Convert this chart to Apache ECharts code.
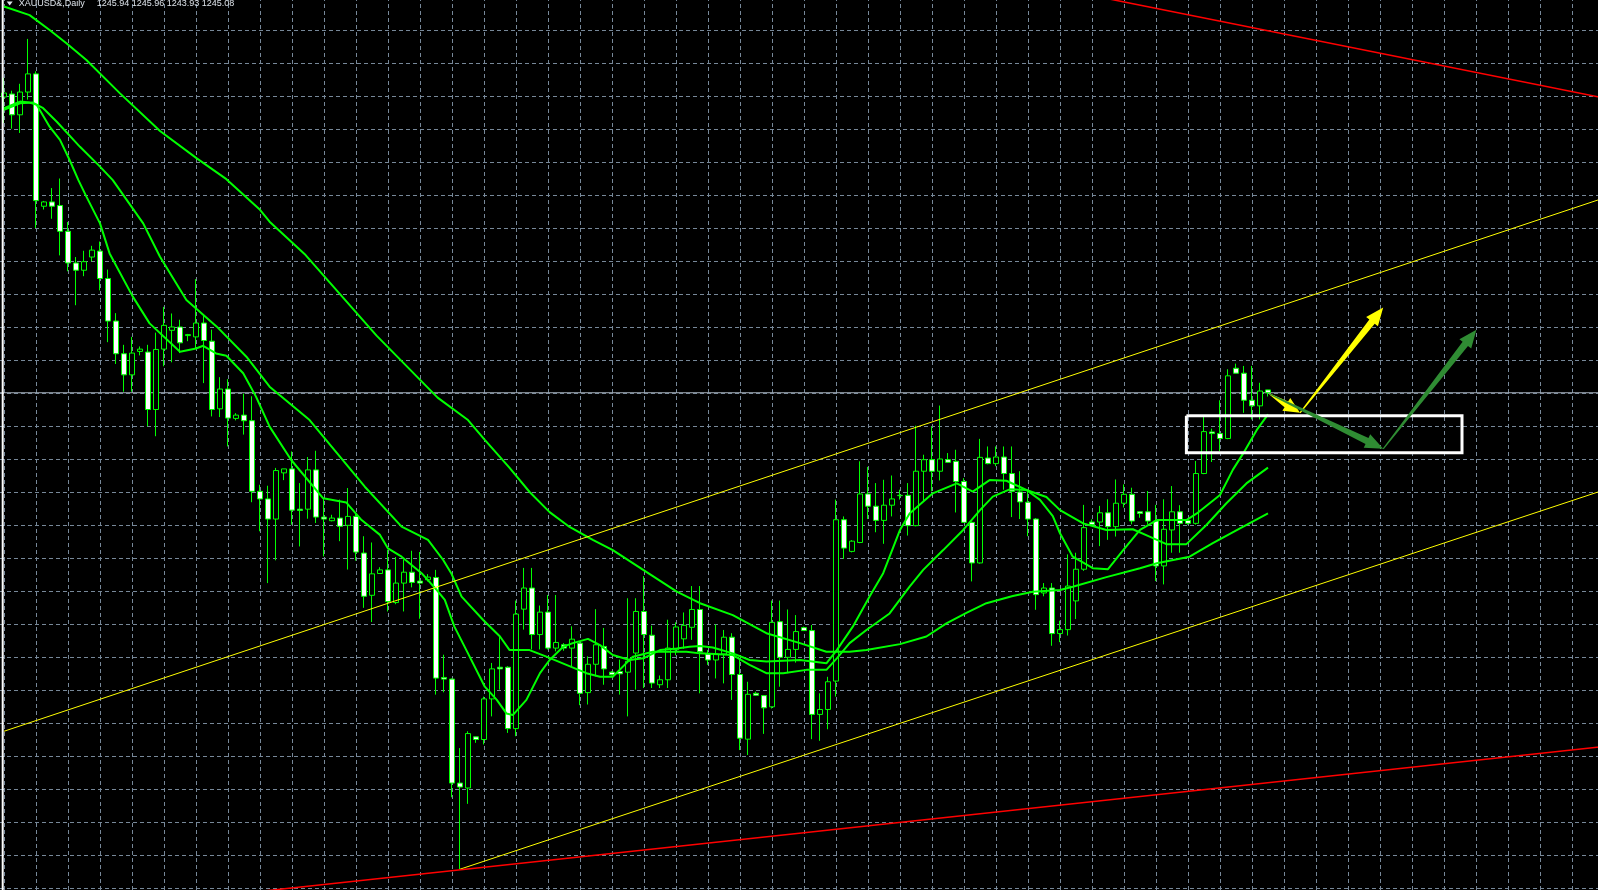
<!DOCTYPE html>
<html>
<head>
<meta charset="utf-8">
<script src="https://cdn.jsdelivr.net/npm/echarts@6/dist/echarts.min.js"></script>
<style>
html,body{margin:0;padding:0;background:#000;overflow:hidden;width:1598px;height:890px;position:relative;}
#chart{position:absolute;left:-27.7px;top:-3px;width:1632px;height:924px;}
</style>
</head>
<body>
<div id="chart"></div>
<script>
// ---- Data (XAUUSD&, Daily) ----
const symbolTitle = 'XAUUSD&,Daily';
const lastQuote = '1245.94 1245.96 1243.93 1245.08';
const lastPrice = 1245.08;

const opens = [1334.7,1335.6,1329.3,1336.2,1341.7,1301.6,1302.9,1301.8,1294.0,1284.4,
1282.2,1286.2,1288.0,1279.7,1266.8,1256.9,1250.5,1257.6,1257.4,1240.0,
1258.3,1264.0,1265.0,1262.4,1262.0,1266.2,1260.7,1240.2,1246.2,1237.3,
1238.3,1236.6,1215.2,1212.9,1206.8,1220.8,1222.0,1209.8,1209.8,1221.7,
1207.4,1206.3,1207.1,1204.9,1207.6,1196.5,1183.7,1190.3,1191.4,1181.5,
1187.4,1190.7,1188.0,1188.4,1189.1,1158.8,1158.3,1126.8,1125.3,1140.8,
1140.0,1152.3,1161.9,1161.9,1143.3,1179.5,1185.9,1171.8,1178.6,1167.7,
1168.7,1167.7,1169.2,1154.2,1162.8,1168.2,1160.4,1160.6,1160.4,1166.2,
1178.8,1171.6,1156.6,1158.1,1167.2,1170.5,1174.0,1179.4,1165.9,1164.1,
1165.9,1171.0,1159.7,1140.1,1154.0,1153.3,1149.9,1175.7,1164.9,1167.3,
1173.9,1173.0,1147.6,1149.1,1157.7,1206.6,1197.0,1199.7,1214.4,1210.7,
1206.4,1211.0,1213.9,1214.0,1204.8,1221.3,1224.8,1221.3,1224.8,1224.3,
1218.2,1205.8,1193.5,1225.3,1223.6,1225.6,1220.6,1215.0,1211.9,1206.8,
1184.4,1185.9,1172.1,1173.3,1182.0,1191.6,1205.9,1205.9,1208.7,1204.5,
1211.6,1214.3,1209.0,1209.0,1206.2,1192.6,1203.5,1209.0,1206.4,1205.5,
1220.6,1233.2,1232.7,1231.2,1252.5,1251.0,1242.8,1241.1,1245.94];

const highs = [1340.5,1336.6,1338.7,1352.3,1342.5,1303.2,1307.1,1310.0,1296.8,1286.2,
1288.1,1289.6,1290.9,1282.4,1269.2,1259.6,1262.0,1259.1,1259.6,1263.3,
1271.1,1269.1,1267.2,1262.9,1279.5,1268.7,1264.2,1249.8,1249.2,1238.9,
1244.8,1244.0,1217.2,1216.9,1222.3,1222.0,1227.3,1217.7,1225.6,1227.5,
1213.2,1208.1,1212.7,1216.2,1208.6,1201.6,1199.7,1192.2,1197.5,1195.3,
1194.5,1197.2,1196.8,1190.1,1191.4,1165.7,1158.5,1137.4,1142.5,1140.8,
1153.0,1163.2,1171.3,1162.2,1182.1,1192.0,1192.0,1180.6,1183.8,1183.8,
1169.2,1174.3,1169.7,1165.2,1179.5,1173.8,1160.7,1164.2,1182.8,1182.8,
1189.5,1174.5,1159.4,1176.3,1175.5,1178.5,1186.5,1186.5,1167.1,1174.9,
1173.2,1172.2,1164.1,1157.5,1154.5,1153.3,1182.1,1182.1,1179.4,1177.7,
1174.2,1174.7,1154.0,1159.0,1212.7,1207.6,1200.4,1224.3,1222.6,1217.7,
1218.7,1220.0,1215.7,1217.7,1235.1,1226.3,1234.9,1241.2,1226.8,1227.8,
1219.2,1206.0,1231.1,1228.8,1228.8,1228.8,1228.8,1221.3,1215.7,1207.1,
1187.4,1187.4,1176.0,1196.1,1196.6,1211.1,1206.7,1210.8,1212.8,1218.8,
1217.3,1216.3,1209.2,1215.3,1211.1,1212.8,1216.8,1211.0,1206.9,1224.4,
1237.8,1234.2,1242.8,1252.2,1253.9,1253.2,1253.2,1248.1,1245.96];

const lows = [1326.8,1325.1,1323.8,1333.9,1295.0,1300.6,1297.8,1286.7,1281.9,1271.6,
1280.4,1284.9,1276.1,1260.4,1253.8,1245.4,1245.4,1256.4,1234.9,1231.9,
1253.1,1254.3,1257.1,1260.7,1258.6,1248.0,1237.9,1237.7,1228.8,1236.7,
1232.4,1211.9,1203.1,1187.4,1194.3,1218.6,1205.1,1198.5,1206.9,1205.6,
1195.5,1206.1,1200.1,1191.5,1194.2,1179.9,1175.6,1190.3,1178.8,1181.0,
1178.8,1186.1,1176.6,1187.9,1153.6,1154.3,1122.5,1100.7,1120.5,1139.0,
1138.5,1147.0,1155.1,1142.0,1141.0,1173.3,1167.3,1167.3,1167.3,1166.7,
1166.9,1162.2,1150.4,1150.6,1159.1,1156.6,1159.4,1153.6,1147.0,1155.1,
1155.6,1155.6,1155.6,1155.6,1165.5,1167.5,1170.2,1154.0,1162.6,1158.5,
1157.0,1152.0,1136.8,1135.3,1153.2,1141.7,1149.4,1156.0,1160.1,1163.3,
1173.0,1140.1,1139.6,1143.1,1153.0,1194.7,1196.7,1199.5,1206.8,1202.8,
1199.3,1207.6,1212.7,1201.8,1204.6,1212.2,1215.2,1218.5,1223.8,1208.8,
1205.6,1187.9,1193.3,1223.4,1222.8,1215.7,1207.4,1206.8,1201.6,1179.3,
1183.4,1168.4,1169.5,1171.5,1176.5,1191.1,1204.7,1198.6,1200.5,1201.5,
1210.3,1205.2,1207.2,1205.2,1188.0,1187.0,1196.6,1196.6,1205.1,1205.1,
1220.4,1224.1,1227.4,1231.0,1251.0,1239.0,1237.0,1237.0,1243.93];

const closes = [1335.9,1329.3,1336.2,1341.7,1303.3,1302.9,1301.6,1294.0,1284.4,1282.2,
1284.8,1288.3,1279.7,1266.8,1256.9,1250.5,1257.1,1258.3,1240.0,1258.2,
1265.5,1265.0,1260.2,1262.7,1266.2,1260.9,1240.0,1246.2,1237.4,1238.3,
1236.6,1215.2,1212.9,1206.8,1221.5,1222.0,1209.5,1209.4,1221.7,1207.4,
1206.8,1207.1,1204.6,1207.6,1196.8,1183.4,1190.2,1191.4,1181.8,1187.4,
1190.7,1187.6,1187.4,1189.2,1158.6,1158.3,1126.8,1125.6,1141.8,1140.0,
1152.3,1161.4,1161.4,1143.3,1178.0,1185.9,1171.8,1178.6,1167.7,1169.4,
1167.7,1170.4,1154.0,1162.8,1168.7,1161.4,1159.6,1159.9,1163.7,1178.8,
1171.8,1157.1,1158.1,1167.7,1174.1,1174.6,1179.4,1166.6,1164.1,1165.9,
1171.0,1159.7,1140.4,1153.7,1153.4,1149.6,1175.5,1164.9,1167.3,1172.7,
1173.0,1147.6,1149.1,1157.5,1206.6,1198.0,1200.1,1214.4,1210.7,1206.4,
1211.0,1212.9,1214.0,1204.8,1221.3,1224.8,1221.3,1225.0,1224.0,1218.2,
1205.8,1193.5,1225.5,1223.6,1225.6,1220.6,1215.2,1212.0,1206.8,1183.9,
1185.9,1172.1,1173.3,1186.5,1191.6,1204.2,1205.1,1208.7,1204.5,1211.6,
1214.3,1206.2,1208.5,1206.2,1192.6,1203.7,1209.0,1205.5,1205.5,1220.6,
1233.3,1232.7,1231.2,1250.2,1251.0,1242.8,1241.1,1245.6,1245.08];

// Moving averages: [bar index, price]
const fastMA = [[0,1331.3],[2,1333.3],[3.2,1333.0],[4.1,1332.3],[5.7,1325.7],[7,1321.7],[8.2,1315.6],[9.3,1309.5],[10.3,1304.5],[12,1296.4],[13.2,1287.3],[16.1,1274.2],[18.2,1266.1],[22,1257.5],[24,1258.5],[24.9,1259.3],[26.5,1257.0],[27.8,1256.3],[29.9,1251.0],[31.5,1243.9],[33.2,1234.8],[35.9,1224.7],[39.9,1213.1],[42.8,1211.8],[44.7,1206.5],[47,1202.0],[48,1197.9],[49.7,1195.4],[52.2,1190.4],[54.1,1185.3],[55.1,1182.3],[56.3,1174.2],[58,1166.1],[60.1,1156.0],[61.6,1152.0],[62.8,1147.9],[63.6,1147.4],[65.3,1152.0],[67,1160.1],[68.2,1164.1],[69.9,1168.1],[71.1,1169.2],[73,1170.5],[74.5,1168.6],[76.1,1165.6],[78.2,1164.1],[79.9,1164.6],[82,1167.1],[84.1,1167.6],[85.7,1168.1],[87,1168.3],[88.6,1167.9],[91.1,1166.1],[93.2,1164.1],[95.3,1163.6],[99.5,1164.1],[102.8,1163.1],[104.1,1167.1],[106.1,1174.2],[108.2,1183.3],[109.9,1190.4],[112,1203.5],[113.2,1208.5],[116.1,1214.6],[119.1,1217.6],[121.1,1215.1],[123.2,1218.6],[125.3,1218.4],[127.8,1215.6],[129.5,1212.6],[131.1,1207.7],[132,1202.5],[133.6,1195.4],[136.1,1191.9],[138,1191.6],[139.9,1197.4],[142,1203.5],[144.1,1206.5],[147.8,1206.5],[149.1,1208.5],[152,1214.1],[153.6,1221.7],[154.9,1226.7],[156.6,1233.8],[158,1238.5]];

const midMA = [[0,1330.8],[2,1332.8],[3.6,1333.0],[4.9,1331.3],[6.6,1327.2],[9.5,1319.6],[12,1313.6],[13.6,1309.5],[17.4,1296.4],[19.5,1286.3],[22.8,1273.2],[26.6,1265.1],[30.3,1256.0],[33.2,1246.9],[38.2,1236.8],[45.1,1216.6],[49.7,1204.5],[53,1200.5],[54.9,1194.4],[55.9,1190.4],[57.2,1183.3],[59.9,1176.2],[62,1171.2],[63.2,1167.1],[65.7,1167.1],[67.8,1165.1],[70.3,1162.6],[72.8,1160.1],[74.5,1159.0],[76.1,1159.0],[78.6,1165.1],[81.1,1166.6],[85.3,1166.6],[87,1166.1],[91.1,1165.6],[93.2,1162.6],[95.3,1160.1],[97.4,1160.1],[100.3,1161.1],[102.8,1161.1],[104.1,1164.6],[105.7,1169.2],[107.8,1173.2],[110.7,1178.2],[113.2,1186.3],[114.9,1191.4],[117.4,1197.4],[119.9,1203.5],[122,1209.5],[123.6,1213.6],[125.7,1215.8],[127.8,1215.6],[130.3,1213.5],[132,1209.5],[134.9,1205.5],[137.8,1203.5],[141.1,1203.7],[143.2,1201.5],[145.3,1199.2],[147.8,1199.2],[150.3,1205.0],[152.8,1211.6],[155.3,1217.6],[158,1222.4]];

const slowMA = [[0,1362.1],[3.2,1359.5],[5.7,1355.0],[7.8,1351.0],[10.3,1345.9],[14.5,1335.8],[19.5,1324.4],[24.1,1316.1],[27.8,1309.8],[32,1300.5],[33.2,1296.9],[37.7,1286.8],[46.6,1262.3],[54.2,1243.6],[58,1236.8],[60.1,1230.8],[63.2,1222.3],[65.7,1215.0],[68.2,1208.9],[70.7,1204.4],[73.6,1200.5],[76.1,1197.4],[79.9,1191.4],[84.1,1184.8],[87,1181.3],[91.1,1177.7],[95.3,1172.2],[99.5,1169.2],[102.8,1166.6],[105.7,1166.6],[107.8,1167.1],[112,1168.9],[115.3,1171.2],[117.8,1175.2],[120.3,1178.4],[122.8,1181.3],[126.1,1183.5],[128.6,1184.8],[132,1185.3],[133.6,1186.3],[137.8,1189.2],[142,1191.9],[144.1,1193.4],[148.2,1195.4],[151.1,1199.5],[154.5,1204.0],[158,1208.5]];

// Drawn objects: trend lines [[bar, price], [bar, price]]
const channelUpper = [[0,1142.5],[200,1304.1]];
const channelLower = [[57,1100.7],[200,1215.6]];
const redLower = [[20,1090.8],[200,1137.9]];
const redUpper = [[138,1364.5],[200,1334.4]];
// Rectangle: [barFrom, barTo, priceTop, priceBottom]
const zoneBox = [147.8, 182.25, 1238.1, 1226.9];
// Arrows: [barFrom, priceFrom, barTo, priceTo]
const yellowArrows = [[158.2,1244.7,162.0,1239.0],[162.0,1239.0,172.4,1270.9]];
const greenArrows = [[158.2,1244.7,172.4,1228.1],[172.4,1228.1,184.05,1264.2]];

// ---- Chart ----
const OX = 27.7, OY = 3; // offset of the chart canvas relative to the window
const candleData = opens.map((o,i)=>[i,o,closes[i],lows[i],highs[i]]);
const boxPath = [[zoneBox[0],zoneBox[2]],[zoneBox[1],zoneBox[2]],[zoneBox[1],zoneBox[3]],[zoneBox[0],zoneBox[3]],[zoneBox[0],zoneBox[2]]];

function arrowRenderer(color){
  return function(params, api){
    const p0 = api.coord([api.value(0), api.value(1)]);
    const p1 = api.coord([api.value(2), api.value(3)]);
    const dx = p1[0]-p0[0], dy = p1[1]-p0[1];
    const len = Math.sqrt(dx*dx+dy*dy) || 1;
    const ux = dx/len, uy = dy/len, nx = -uy, ny = ux;
    const headLen = Math.min(18, len*0.45), headW = 7.5, shaftW = 3.4, startW = 0.6;
    const bx = p1[0]-ux*headLen, by = p1[1]-uy*headLen;
    const pts = [
      [p0[0]+nx*startW, p0[1]+ny*startW],
      [bx+nx*shaftW, by+ny*shaftW],
      [bx+nx*headW, by+ny*headW],
      [p1[0], p1[1]],
      [bx-nx*headW, by-ny*headW],
      [bx-nx*shaftW, by-ny*shaftW],
      [p0[0]-nx*startW, p0[1]-ny*startW]
    ];
    return {type:'polygon', shape:{points:pts}, style:{fill:color, stroke:null}};
  };
}

const gridLine = {show:true, lineStyle:{color:'#778899', type:[4,3], width:1}};
const chart = echarts.init(document.getElementById('chart'), null, {renderer:'canvas'});
const lineBase = {type:'line', showSymbol:false, symbol:'none', silent:true, animation:false};
const titleFont = '9px "Liberation Sans", Arial, sans-serif';
chart.setOption({
  animation:false,
  backgroundColor:'#000000',
  grid:{left:0, right:0, top:0, bottom:0, containLabel:false, outerBoundsMode:'none'},
  xAxis:{type:'value', min:-4, max:200, interval:4,
    axisLine:{show:false}, axisTick:{show:false}, axisLabel:{show:false}, splitLine:gridLine},
  yAxis:{type:'value', min:1085, max:1365, interval:10,
    axisLine:{show:false}, axisTick:{show:false}, axisLabel:{show:false}, splitLine:gridLine},
  graphic:[
    {type:'rect', shape:{x:OX+2, y:0, width:2, height:924}, style:{fill:'#ffffff'}, z:100},
    {type:'polygon', shape:{points:[[OX+7,OY+1.5],[OX+13,OY+1.5],[OX+10,OY+5.5]]}, style:{fill:'#dde3ea'}, z:100},
    {type:'text', x:OX+19, y:OY-1, style:{text:symbolTitle, fill:'#dde3ea', font:titleFont, verticalAlign:'top'}, z:100},
    {type:'text', x:OX+97, y:OY-1, style:{text:lastQuote, fill:'#dde3ea', font:titleFont, verticalAlign:'top'}, z:100}
  ],
  series:[
    Object.assign({}, lineBase, {name:'bid', data:[[-4,lastPrice],[200,lastPrice]], z:1,
      lineStyle:{color:'#a3adb9', width:1}}),
    {type:'candlestick', name:'XAUUSD', data:candleData, encode:{x:0, y:[1,2,3,4]}, z:2,
      barWidth:5, silent:true,
      itemStyle:{color:'#000000', color0:'#ffffff', borderColor:'#00ff00', borderColor0:'#00ff00', borderColorDoji:'#00ff00', borderWidth:1}},
    Object.assign({}, lineBase, {name:'fast', data:fastMA, z:3, lineStyle:{color:'#00ff00', width:2}}),
    Object.assign({}, lineBase, {name:'mid', data:midMA, z:3, lineStyle:{color:'#00ff00', width:2}}),
    Object.assign({}, lineBase, {name:'slow', data:slowMA, z:3, lineStyle:{color:'#00ff00', width:2}}),
    Object.assign({}, lineBase, {name:'chU', data:channelUpper, z:4, lineStyle:{color:'#ffff00', width:1}}),
    Object.assign({}, lineBase, {name:'chL', data:channelLower, z:4, lineStyle:{color:'#ffff00', width:1}}),
    Object.assign({}, lineBase, {name:'rL', data:redLower, z:4, lineStyle:{color:'#ff0000', width:1.5}}),
    Object.assign({}, lineBase, {name:'rU', data:redUpper, z:4, lineStyle:{color:'#ff0000', width:1.5}}),
    Object.assign({}, lineBase, {name:'box', data:boxPath, z:5, lineStyle:{color:'#ffffff', width:3, join:'miter'}}),
    {type:'custom', name:'yArrows', data:yellowArrows, encode:{x:[0,2], y:[1,3]}, z:6, silent:true,
      renderItem:arrowRenderer('#ffff00')},
    {type:'custom', name:'gArrows', data:greenArrows, encode:{x:[0,2], y:[1,3]}, z:7, silent:true,
      renderItem:arrowRenderer('#2f8c33')}
  ]
});
</script>
</body>
</html>
